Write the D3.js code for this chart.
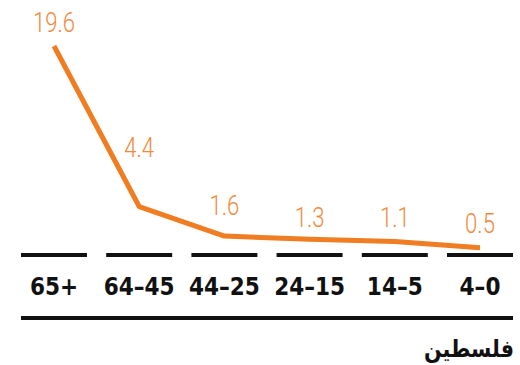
<!DOCTYPE html>
<html>
<head>
<meta charset="utf-8">
<script src="https://cdn.jsdelivr.net/npm/d3@7"></script>
<style>
  body { margin: 0; background: #fff; }
  .value { font-family: "Roboto", sans-serif; font-weight: 300; fill: #f08a3c; }
  .cat { font-family: "DejaVu Sans Condensed", "DejaVu Sans", sans-serif; font-weight: bold; fill: #111; }
  .place { font-family: "DejaVu Sans", sans-serif; font-weight: bold; fill: #111; }
</style>
</head>
<body>
<svg id="chart" width="520" height="365"></svg>
<script>
// age groups, left to right
let categories = ["65+", "64–45", "44–25", "24–15", "14–5", "4–0"];
let values = [19.6, 4.4, 1.6, 1.3, 1.1, 0.5];
let country = "فلسطين";

// extra lift for each value label (layout only)
let labelLift = [14, 50, 21, 12, 14, 15];

let svg = d3.select("#chart");

let x = d3.scalePoint()
    .domain(categories)
    .range([54, 480]);

let y = d3.scaleLinear()
    .domain([0, 19.6])
    .range([253, 46]);

let halfSeg = 33;

// dashed baseline pieces under each group
svg.selectAll(".seg")
    .data(categories)
  .enter().append("line")
    .attr("class", "seg")
    .attr("x1", d => x(d) - halfSeg)
    .attr("x2", d => x(d) + halfSeg)
    .attr("y1", 255)
    .attr("y2", 255)
    .attr("stroke", "#111")
    .attr("stroke-width", 4);

// category labels
svg.selectAll(".cat")
    .data(categories)
  .enter().append("text")
    .attr("class", "cat")
    .attr("x", d => x(d))
    .attr("y", 295)
    .attr("text-anchor", "middle")
    .attr("font-size", 24)
    .text(d => d);

// bottom rule
svg.append("line")
    .attr("x1", x(categories[0]) - halfSeg)
    .attr("x2", x(categories[categories.length - 1]) + halfSeg)
    .attr("y1", 318)
    .attr("y2", 318)
    .attr("stroke", "#111")
    .attr("stroke-width", 4);

let line = d3.line()
    .x((d, i) => x(categories[i]))
    .y(d => y(d));

svg.append("path")
    .datum(values)
    .attr("d", line)
    .attr("fill", "none")
    .attr("stroke", "#f07d22")
    .attr("stroke-width", 5)
    .attr("stroke-linejoin", "round");

// value labels, squeezed a bit to look condensed
svg.selectAll(".value")
    .data(values)
  .enter().append("text")
    .attr("class", "value")
    .attr("transform", (d, i) => "translate(" + x(categories[i]) + "," + (y(d) - labelLift[i]) + ") scale(0.82,1)")
    .attr("text-anchor", "middle")
    .attr("font-size", 27)
    .text(d => d3.format(".1f")(d));

svg.append("text")
    .attr("class", "place")
    .attr("transform", "translate(514,357) scale(0.86,1)")
    .attr("text-anchor", "end")
    .attr("font-size", 24)
    .text(country);
</script>
</body>
</html>
